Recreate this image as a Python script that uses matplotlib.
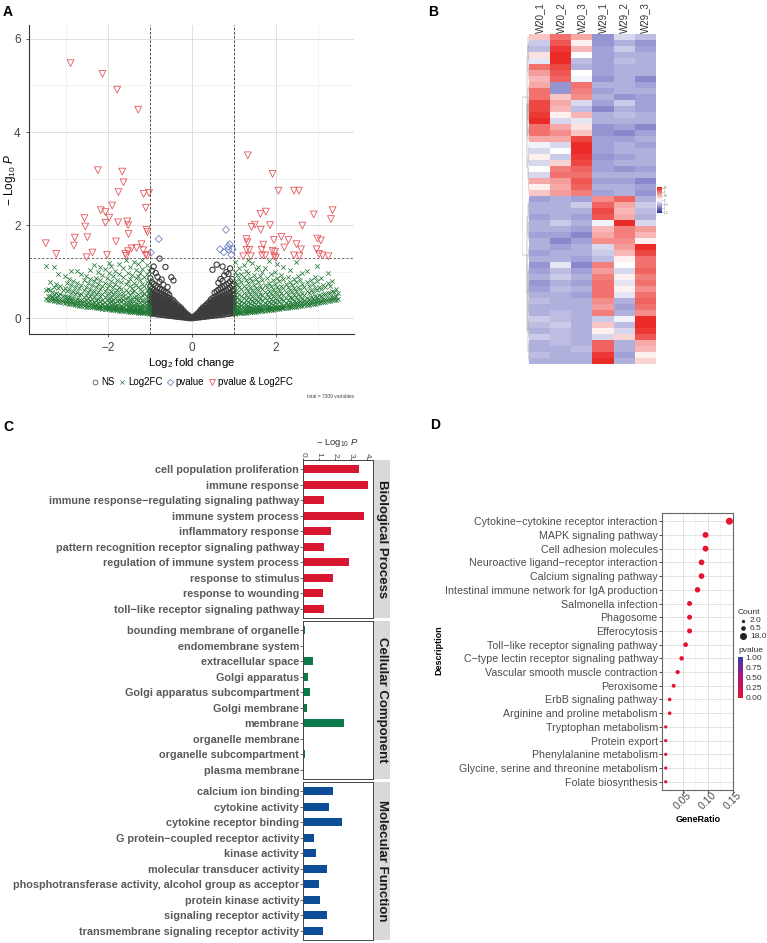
import numpy as np
import matplotlib.pyplot as plt
from matplotlib.colors import LinearSegmentedColormap
from matplotlib.lines import Line2D

plt.rcParams['font.family'] = ['Liberation Sans', 'DejaVu Sans']
plt.rcParams['mathtext.fontset'] = 'custom'
plt.rcParams['mathtext.rm'] = 'Liberation Sans'
plt.rcParams['mathtext.it'] = 'Liberation Sans:italic'

W, H = 767, 943

# ---------------- panel A: volcano ----------------
# NS points, per x bin: (x, [y values])
gray_left = [
    (-0.02, [0.00, 0.01]), (-0.07, [0.00, 0.02, 0.05]), (-0.11, [0.01, 0.03, 0.06, 0.08]),
    (-0.16, [0.01, 0.04, 0.06, 0.09, 0.12]), (-0.21, [0.02, 0.05, 0.07, 0.11, 0.14, 0.17]),
    (-0.26, [0.02, 0.04, 0.08, 0.11, 0.15, 0.18, 0.22]),
    (-0.30, [0.03, 0.06, 0.09, 0.13, 0.16, 0.20, 0.25]),
    (-0.35, [0.03, 0.05, 0.09, 0.12, 0.17, 0.21, 0.24, 0.29]),
    (-0.40, [0.04, 0.07, 0.11, 0.14, 0.18, 0.23, 0.27, 0.33]),
    (-0.44, [0.04, 0.08, 0.10, 0.15, 0.19, 0.22, 0.28, 0.32, 0.38, 0.81]),
    (-0.49, [0.05, 0.08, 0.12, 0.16, 0.21, 0.25, 0.30, 0.35, 0.41, 0.88]),
    (-0.54, [0.05, 0.09, 0.13, 0.17, 0.20, 0.26, 0.31, 0.37, 0.43, 0.50]),
    (-0.58, [0.06, 0.10, 0.13, 0.18, 0.23, 0.27, 0.33, 0.38, 0.45, 0.54, 0.67]),
    (-0.63, [0.06, 0.11, 0.15, 0.19, 0.24, 0.29, 0.34, 0.40, 0.47, 0.56, 1.10]),
    (-0.68, [0.07, 0.10, 0.15, 0.21, 0.25, 0.30, 0.36, 0.43, 0.49, 0.58, 0.72]),
    (-0.72, [0.07, 0.12, 0.16, 0.20, 0.26, 0.32, 0.37, 0.44, 0.52, 0.61, 0.83]),
    (-0.77, [0.08, 0.12, 0.17, 0.22, 0.28, 0.33, 0.39, 0.46, 0.53, 0.63, 0.78, 1.28]),
    (-0.82, [0.08, 0.13, 0.18, 0.23, 0.27, 0.34, 0.41, 0.47, 0.55, 0.66, 0.89]),
    (-0.86, [0.09, 0.13, 0.19, 0.24, 0.30, 0.36, 0.42, 0.50, 0.58, 0.70, 0.97]),
    (-0.91, [0.10, 0.14, 0.19, 0.25, 0.31, 0.37, 0.44, 0.51, 0.60, 0.73, 1.11]),
    (-0.95, [0.10, 0.15, 0.21, 0.26, 0.32, 0.39, 0.46, 0.54, 0.63, 0.77, 1.02]),
    (-0.99, [0.11, 0.16, 0.22, 0.28, 0.34, 0.40, 0.48, 0.57, 0.68, 0.86]),
]
gray_right = [
    (0.03, [0.00, 0.02]), (0.07, [0.01, 0.03, 0.05]), (0.12, [0.01, 0.04, 0.07, 0.09]),
    (0.17, [0.02, 0.04, 0.07, 0.10, 0.13]), (0.21, [0.02, 0.05, 0.08, 0.12, 0.15, 0.18]),
    (0.26, [0.03, 0.06, 0.09, 0.12, 0.16, 0.19, 0.23]),
    (0.31, [0.03, 0.06, 0.10, 0.14, 0.17, 0.21, 0.26]),
    (0.35, [0.04, 0.07, 0.10, 0.14, 0.18, 0.22, 0.26, 0.30]),
    (0.40, [0.04, 0.08, 0.12, 0.15, 0.20, 0.24, 0.29, 0.34]),
    (0.45, [0.05, 0.08, 0.12, 0.16, 0.21, 0.25, 0.30, 0.34, 0.40]),
    (0.49, [0.05, 0.09, 0.13, 0.18, 0.22, 0.27, 0.32, 0.37, 0.43, 1.04]),
    (0.54, [0.06, 0.10, 0.14, 0.18, 0.24, 0.28, 0.34, 0.39, 0.46, 0.55]),
    (0.59, [0.06, 0.11, 0.15, 0.20, 0.25, 0.30, 0.35, 0.41, 0.48, 0.58, 1.15]),
    (0.63, [0.07, 0.11, 0.16, 0.21, 0.26, 0.31, 0.37, 0.43, 0.50, 0.61, 0.76]),
    (0.68, [0.07, 0.12, 0.17, 0.22, 0.27, 0.33, 0.39, 0.45, 0.53, 0.64, 0.84]),
    (0.73, [0.08, 0.13, 0.17, 0.23, 0.29, 0.34, 0.40, 0.47, 0.55, 0.66, 0.80, 1.11]),
    (0.77, [0.08, 0.13, 0.18, 0.24, 0.30, 0.36, 0.42, 0.49, 0.57, 0.69, 0.92]),
    (0.82, [0.09, 0.14, 0.19, 0.25, 0.31, 0.37, 0.44, 0.51, 0.60, 0.72, 0.99]),
    (0.87, [0.09, 0.15, 0.20, 0.26, 0.32, 0.38, 0.45, 0.53, 0.62, 0.75, 0.95]),
    (0.91, [0.10, 0.15, 0.21, 0.27, 0.33, 0.40, 0.47, 0.55, 0.65, 0.79, 1.07]),
    (0.96, [0.11, 0.16, 0.22, 0.28, 0.35, 0.42, 0.49, 0.58, 0.69, 0.84]),
    (0.99, [0.11, 0.17, 0.23, 0.29, 0.36, 0.43, 0.51, 0.61, 0.73]),
]

# Log2FC-only points, per x bin
green_left = [
    (-1.03, [0.10, 0.12, 0.15, 0.19, 0.24, 0.31, 0.42, 0.55, 0.68, 0.83, 1.01]),
    (-1.08, [0.11, 0.13, 0.17, 0.22, 0.28, 0.36, 0.47, 0.61, 0.77, 0.94, 1.14]),
    (-1.13, [0.11, 0.14, 0.16, 0.20, 0.26, 0.33, 0.40, 0.52, 0.70, 0.88]),
    (-1.18, [0.12, 0.13, 0.18, 0.23, 0.29, 0.38, 0.49, 0.58, 0.74, 1.05, 1.25]),
    (-1.23, [0.12, 0.15, 0.19, 0.21, 0.27, 0.35, 0.44, 0.63, 0.81, 0.97]),
    (-1.28, [0.12, 0.14, 0.17, 0.24, 0.31, 0.39, 0.53, 0.66, 0.91, 1.17]),
    (-1.33, [0.13, 0.16, 0.20, 0.25, 0.30, 0.42, 0.48, 0.71, 0.86, 1.03]),
    (-1.38, [0.13, 0.15, 0.18, 0.22, 0.29, 0.37, 0.45, 0.59, 0.76, 1.21]),
    (-1.43, [0.13, 0.17, 0.21, 0.27, 0.33, 0.41, 0.56, 0.64, 0.93]),
    (-1.48, [0.14, 0.16, 0.19, 0.24, 0.32, 0.38, 0.50, 0.69, 0.84, 1.10]),
    (-1.53, [0.14, 0.18, 0.23, 0.26, 0.35, 0.46, 0.57, 0.79, 0.98]),
    (-1.58, [0.15, 0.17, 0.20, 0.28, 0.34, 0.43, 0.61, 0.73, 1.24]),
    (-1.63, [0.15, 0.19, 0.24, 0.30, 0.39, 0.48, 0.55, 0.88, 1.07]),
    (-1.68, [0.16, 0.18, 0.22, 0.27, 0.36, 0.44, 0.63, 0.77]),
    (-1.73, [0.16, 0.20, 0.25, 0.32, 0.40, 0.52, 0.68, 0.95, 1.16]),
    (-1.78, [0.17, 0.19, 0.23, 0.29, 0.37, 0.47, 0.60, 0.82]),
    (-1.83, [0.17, 0.21, 0.27, 0.33, 0.44, 0.56, 0.73, 1.02]),
    (-1.88, [0.18, 0.20, 0.25, 0.31, 0.39, 0.51, 0.66, 0.90]),
    (-1.93, [0.18, 0.22, 0.28, 0.36, 0.46, 0.59, 0.80, 1.13]),
    (-1.98, [0.19, 0.21, 0.26, 0.34, 0.42, 0.55, 0.71, 0.97, 1.19]),
    (-2.03, [0.19, 0.23, 0.29, 0.38, 0.49, 0.64, 0.86]),
    (-2.08, [0.20, 0.22, 0.27, 0.35, 0.45, 0.58, 0.76, 1.05]),
    (-2.13, [0.20, 0.24, 0.31, 0.40, 0.53, 0.69, 0.92]),
    (-2.18, [0.21, 0.23, 0.28, 0.37, 0.48, 0.62, 0.81, 1.09]),
    (-2.23, [0.22, 0.25, 0.32, 0.42, 0.56, 0.74, 0.99]),
    (-2.28, [0.22, 0.26, 0.30, 0.39, 0.51, 0.66, 0.87]),
    (-2.33, [0.23, 0.27, 0.34, 0.45, 0.59, 0.79, 1.15]),
    (-2.38, [0.23, 0.28, 0.32, 0.41, 0.54, 0.71]),
    (-2.43, [0.24, 0.29, 0.36, 0.47, 0.63, 0.84, 1.03]),
    (-2.48, [0.25, 0.28, 0.34, 0.44, 0.57, 0.76]),
    (-2.53, [0.25, 0.30, 0.38, 0.50, 0.67, 0.90]),
    (-2.58, [0.26, 0.31, 0.36, 0.46, 0.60, 0.81]),
    (-2.63, [0.27, 0.32, 0.40, 0.53, 0.71, 0.95]),
    (-2.68, [0.27, 0.33, 0.38, 0.49, 0.64]),
    (-2.73, [0.28, 0.34, 0.42, 0.56, 0.75, 1.01]),
    (-2.78, [0.29, 0.33, 0.40, 0.52, 0.68]),
    (-2.83, [0.30, 0.35, 0.44, 0.59, 0.80]),
    (-2.88, [0.30, 0.36, 0.43, 0.55, 0.72, 1.02]),
    (-2.93, [0.31, 0.37, 0.46, 0.62, 0.85]),
    (-2.98, [0.32, 0.38, 0.45, 0.58, 0.76]),
    (-3.03, [0.33, 0.39, 0.48, 0.65, 0.91]),
    (-3.08, [0.34, 0.40, 0.47, 0.61]),
    (-3.13, [0.35, 0.41, 0.51, 0.69]),
    (-3.18, [0.35, 0.42, 0.50, 0.64, 0.95]),
    (-3.23, [0.36, 0.43, 0.54, 0.73]),
    (-3.28, [0.37, 0.44, 0.53, 0.68, 1.10]),
    (-3.33, [0.38, 0.45, 0.57]),
    (-3.38, [0.39, 0.47, 0.60, 0.78]),
    (-3.43, [0.40, 0.48, 0.62]),
    (-3.48, [0.41, 0.60, 1.12]),
]
green_right = [
    (1.03, [0.10, 0.11, 0.14, 0.18, 0.23, 0.30, 0.38, 0.50, 0.64, 0.80, 0.99, 1.20]),
    (1.08, [0.11, 0.13, 0.16, 0.21, 0.27, 0.34, 0.45, 0.57, 0.73, 0.92]),
    (1.13, [0.11, 0.14, 0.18, 0.24, 0.31, 0.40, 0.51, 0.66, 0.85, 1.08]),
    (1.18, [0.12, 0.13, 0.17, 0.22, 0.29, 0.37, 0.48, 0.62, 0.78, 0.96]),
    (1.23, [0.12, 0.15, 0.19, 0.25, 0.33, 0.43, 0.55, 0.70, 0.89, 1.15]),
    (1.28, [0.12, 0.14, 0.18, 0.23, 0.30, 0.39, 0.50, 0.64, 0.82, 1.02]),
    (1.33, [0.13, 0.16, 0.21, 0.27, 0.35, 0.46, 0.59, 0.75, 0.97, 1.26]),
    (1.38, [0.13, 0.15, 0.19, 0.24, 0.32, 0.41, 0.53, 0.68, 0.87]),
    (1.43, [0.13, 0.17, 0.22, 0.28, 0.37, 0.48, 0.61, 0.79, 1.18]),
    (1.48, [0.14, 0.16, 0.20, 0.26, 0.34, 0.44, 0.56, 0.72, 0.93]),
    (1.53, [0.14, 0.18, 0.23, 0.30, 0.39, 0.51, 0.65, 0.84, 1.06]),
    (1.58, [0.15, 0.17, 0.21, 0.27, 0.36, 0.47, 0.60, 0.77, 1.11]),
    (1.63, [0.15, 0.19, 0.24, 0.31, 0.41, 0.53, 0.69, 0.90]),
    (1.68, [0.16, 0.18, 0.22, 0.29, 0.38, 0.49, 0.63, 0.81, 0.99]),
    (1.73, [0.16, 0.20, 0.26, 0.33, 0.43, 0.56, 0.72, 1.07]),
    (1.78, [0.17, 0.19, 0.24, 0.31, 0.40, 0.52, 0.67, 0.86]),
    (1.83, [0.17, 0.21, 0.27, 0.35, 0.46, 0.59, 0.76, 1.22]),
    (1.88, [0.18, 0.20, 0.25, 0.32, 0.42, 0.54, 0.70, 0.94]),
    (1.93, [0.18, 0.22, 0.28, 0.37, 0.48, 0.62, 0.82]),
    (1.98, [0.19, 0.21, 0.26, 0.34, 0.44, 0.57, 0.74, 1.00]),
    (2.03, [0.19, 0.23, 0.30, 0.39, 0.51, 0.66, 0.87, 1.17]),
    (2.08, [0.20, 0.22, 0.27, 0.36, 0.47, 0.61, 0.79]),
    (2.13, [0.21, 0.24, 0.31, 0.41, 0.54, 0.70, 0.92]),
    (2.18, [0.21, 0.25, 0.29, 0.38, 0.50, 0.65, 0.85, 1.10]),
    (2.23, [0.22, 0.26, 0.33, 0.43, 0.57, 0.74]),
    (2.28, [0.22, 0.27, 0.31, 0.40, 0.53, 0.68, 0.89]),
    (2.33, [0.23, 0.27, 0.35, 0.46, 0.60, 0.78, 1.04]),
    (2.38, [0.24, 0.28, 0.33, 0.43, 0.56, 0.72]),
    (2.43, [0.24, 0.29, 0.37, 0.49, 0.64, 0.84]),
    (2.48, [0.25, 0.30, 0.35, 0.45, 0.59, 0.77, 1.21]),
    (2.53, [0.26, 0.30, 0.39, 0.52, 0.68, 0.90]),
    (2.58, [0.26, 0.31, 0.37, 0.48, 0.62, 0.81]),
    (2.63, [0.27, 0.32, 0.41, 0.55, 0.73, 0.97]),
    (2.68, [0.28, 0.33, 0.39, 0.50, 0.66]),
    (2.73, [0.28, 0.34, 0.43, 0.58, 0.77, 1.01]),
    (2.78, [0.29, 0.35, 0.42, 0.54, 0.70]),
    (2.83, [0.30, 0.35, 0.45, 0.61, 0.83]),
    (2.88, [0.31, 0.36, 0.44, 0.57, 0.74]),
    (2.93, [0.31, 0.37, 0.47, 0.64, 0.88]),
    (2.98, [0.32, 0.38, 0.46, 0.60, 0.79, 1.13]),
    (3.03, [0.33, 0.39, 0.50, 0.67]),
    (3.08, [0.34, 0.40, 0.48, 0.63, 0.86]),
    (3.13, [0.35, 0.41, 0.52, 0.71]),
    (3.18, [0.35, 0.42, 0.51, 0.66]),
    (3.23, [0.36, 0.43, 0.55, 0.75, 0.98]),
    (3.28, [0.37, 0.44, 0.54, 0.70]),
    (3.33, [0.38, 0.45, 0.58, 0.79]),
    (3.38, [0.39, 0.46, 0.57]),
    (3.43, [0.40, 0.47, 0.63]),
    (3.48, [0.41, 0.55]),
]

# p-value only
blue_pts = [(-0.79, 1.70), (-0.98, 1.41), (0.81, 1.90), (0.90, 1.59), (0.67, 1.48),
            (0.76, 1.42), (0.87, 1.48), (0.97, 1.48), (0.94, 1.36), (0.86, 1.54)]

# p-value & Log2FC
red_pts = [
    (-2.89, 5.48), (-2.13, 5.25), (-1.78, 4.91), (-1.28, 4.48), (-2.24, 3.18), (-1.66, 3.15),
    (-1.63, 2.92), (-1.75, 2.71), (-1.15, 2.67), (-1.02, 2.69), (-1.10, 2.37), (-1.90, 2.42),
    (-2.17, 2.32), (-2.06, 2.28), (-1.97, 2.16), (-2.56, 2.15), (-2.54, 1.97), (-2.06, 2.05),
    (-1.76, 2.06), (-1.54, 2.08), (-1.52, 2.00), (-1.51, 1.81), (-1.08, 1.90), (-1.06, 1.85),
    (-2.79, 1.73), (-2.49, 1.74), (-2.81, 1.56), (-3.48, 1.61), (-3.23, 1.38), (-1.81, 1.65),
    (-2.37, 1.41), (-2.51, 1.31), (-2.02, 1.36), (-1.59, 1.38), (-1.52, 1.44), (-1.44, 1.50),
    (-1.32, 1.51), (-1.20, 1.59), (-1.16, 1.46), (-1.10, 1.36), (-1.06, 1.34), (-1.56, 1.34),
    (1.33, 3.50), (1.92, 3.10), (2.06, 2.74), (2.43, 2.74), (2.55, 2.74),
    (2.90, 2.23), (3.35, 2.32), (3.31, 2.13), (1.63, 2.24), (1.76, 2.29), (1.50, 2.01),
    (1.42, 1.96), (1.64, 1.90), (1.86, 2.00), (2.63, 1.99), (2.13, 1.75), (1.95, 1.68),
    (2.30, 1.68), (2.99, 1.71), (3.07, 1.67), (1.30, 1.70), (1.32, 1.63), (1.70, 1.58),
    (2.20, 1.52), (2.49, 1.59), (2.60, 1.48), (2.97, 1.48), (1.30, 1.47), (1.37, 1.47),
    (1.66, 1.47), (1.92, 1.45), (1.98, 1.42), (1.67, 1.35), (1.40, 1.33), (1.22, 1.33),
    (2.43, 1.35), (3.03, 1.38), (3.11, 1.35), (3.25, 1.33), (1.96, 1.33), (2.00, 1.30),
    (2.56, 1.33), (1.75, 1.35),
]
total_variables = 7309

# ---------------- panel B: heatmap (row z-scores) ----------------
samples = ['W20_1', 'W20_2', 'W20_3', 'W29_1', 'W29_2', 'W29_3']
heat_rows = [
    [0.4, 1.0, 0.6, -0.8, -0.3, -0.5], [-0.4, 1.2, 0.1, -0.8, -0.6, -0.8],
    [-0.5, 1.4, 0.5, -0.7, -0.4, -0.7], [0.2, 1.5, 0.0, -0.7, -0.6, -0.6],
    [-0.2, 1.5, -0.5, -0.7, -0.5, -0.6], [1.0, 1.3, -0.6, -0.7, -0.6, -0.6],
    [0.7, 1.2, 0.0, -0.7, -0.6, -0.6], [0.5, 1.1, -0.1, -0.8, -0.6, -0.9],
    [0.6, -0.8, 1.0, -0.6, -0.6, -0.7], [1.0, -0.8, 0.9, -0.7, -0.6, -0.6],
    [1.0, 0.4, 0.8, -0.6, -0.8, -0.7], [1.3, 0.6, -0.3, -0.7, -0.4, -0.7],
    [1.3, 0.5, -0.5, -0.9, -0.6, -0.7], [1.4, 0.1, 0.5, -0.6, -0.5, -0.6],
    [1.5, -0.3, -0.2, -0.6, -0.6, -0.6], [1.0, 0.6, 0.2, -0.8, -0.7, -0.9],
    [1.0, 0.8, 0.4, -0.8, -0.9, -0.7], [0.6, 0.6, 1.3, -0.7, -0.7, -0.6],
    [-0.1, -0.3, 1.5, -0.7, -0.6, -0.7], [-0.3, 0.0, 1.5, -0.7, -0.6, -0.6],
    [0.1, -0.4, 1.4, -0.8, -0.7, -0.6], [-0.3, 0.3, 1.3, -0.7, -0.6, -0.6],
    [0.0, 0.9, 1.1, -0.7, -0.8, -0.7], [-0.3, 1.0, 1.0, -0.6, -0.6, -0.6],
    [0.6, 0.7, 1.2, -0.7, -0.7, -0.9], [0.1, 0.6, 1.1, -0.6, -0.6, -0.7],
    [0.4, 0.7, 0.9, -0.7, -0.6, -0.8],
    [-0.7, -0.6, -0.7, 0.8, 1.1, -0.6], [-0.6, -0.6, -0.4, 1.1, 0.6, -0.4],
    [-0.6, -0.6, -0.6, 1.3, 0.5, -0.5], [-0.7, -0.6, -0.7, 1.2, 0.6, -0.6],
    [-0.6, -0.4, -0.6, -0.1, 1.5, -0.3], [-0.6, -0.6, -0.7, 0.5, 0.9, 0.7],
    [-0.7, -0.7, -0.9, 0.6, 0.9, 0.5], [-0.6, -0.9, -0.7, 0.8, 0.8, 0.1],
    [-0.6, -0.7, -0.6, -0.3, 0.7, 1.5], [-0.7, -0.6, -0.6, -0.4, 0.5, 1.3],
    [-0.6, -0.6, -0.7, -0.5, 0.1, 1.0], [-0.8, -0.2, -0.9, 0.9, 0.0, 1.0],
    [-0.7, -0.5, -0.7, 0.7, -0.3, 1.1], [-0.6, -0.4, -0.6, 0.9, 0.1, 0.9],
    [-0.8, -0.6, -0.7, 1.0, -0.2, 1.0], [-0.7, -0.5, -0.6, 1.0, 0.1, 0.8],
    [-0.6, -0.6, -0.7, 1.0, -0.2, 1.0], [-0.5, -0.6, -0.6, 0.8, -0.6, 1.1],
    [-0.6, -0.6, -0.6, 0.7, -0.7, 1.0], [-0.6, -0.5, -0.6, 0.9, -0.6, 0.8],
    [-0.4, -0.5, -0.6, -0.4, -0.1, 1.5], [-0.5, -0.4, -0.6, 0.4, -0.5, 1.5],
    [-0.6, -0.5, -0.6, 0.1, -0.3, 1.4], [-0.4, -0.5, -0.6, -0.3, 0.3, 1.2],
    [-0.6, -0.5, -0.6, 1.1, -0.6, 0.6], [-0.6, -0.6, -0.5, 1.1, -0.6, 0.5],
    [-0.5, -0.6, -0.6, 1.4, -0.7, 0.1], [-0.6, -0.6, -0.6, 1.5, -0.6, 0.3],
]

# ---------------- panel C: GO enrichment ----------------
bp_terms = ['cell population proliferation', 'immune response',
            'immune response\u2212regulating signaling pathway', 'immune system process',
            'inflammatory response', 'pattern recognition receptor signaling pathway',
            'regulation of immune system process', 'response to stimulus',
            'response to wounding', 'toll\u2212like receptor signaling pathway']
bp_logp = [3.51, 4.06, 1.30, 3.83, 1.72, 1.30, 2.88, 1.89, 1.22, 1.30]
cc_terms = ['bounding membrane of organelle', 'endomembrane system', 'extracellular space',
            'Golgi apparatus', 'Golgi apparatus subcompartment', 'Golgi membrane', 'membrane',
            'organelle membrane', 'organelle subcompartment', 'plasma membrane']
cc_logp = [0.10, 0.07, 0.59, 0.32, 0.42, 0.25, 2.54, 0.06, 0.13, 0.06]
mf_terms = ['calcium ion binding', 'cytokine activity', 'cytokine receptor binding',
            'G protein\u2212coupled receptor activity', 'kinase activity',
            'molecular transducer activity', 'phosphotransferase activity, alcohol group as acceptor',
            'protein kinase activity', 'signaling receptor activity',
            'transmembrane signaling receptor activity']
mf_logp = [1.89, 1.62, 2.42, 0.65, 0.78, 1.49, 0.97, 1.05, 1.49, 1.26]

# ---------------- panel D: KEGG dot plot ----------------
kegg_terms = ['Cytokine\u2212cytokine receptor interaction', 'MAPK signaling pathway',
              'Cell adhesion molecules', 'Neuroactive ligand\u2212receptor interaction',
              'Calcium signaling pathway', 'Intestinal immune network for IgA production',
              'Salmonella infection', 'Phagosome', 'Efferocytosis',
              'Toll\u2212like receptor signaling pathway', 'C\u2212type lectin receptor signaling pathway',
              'Vascular smooth muscle contraction', 'Peroxisome', 'ErbB signaling pathway',
              'Arginine and proline metabolism', 'Tryptophan metabolism', 'Protein export',
              'Phenylalanine metabolism', 'Glycine, serine and threonine metabolism',
              'Folate biosynthesis']
kegg_count = [18, 12, 12, 11, 11, 10, 8, 8, 8, 7, 6, 5, 4, 3, 3, 2, 2, 2, 2, 2]
kegg_total = 126
kegg_pvalue = [0.0001, 0.01, 0.005, 0.04, 0.02, 0.01, 0.03, 0.03, 0.02, 0.03,
               0.02, 0.03, 0.02, 0.03, 0.02, 0.02, 0.02, 0.02, 0.02, 0.02]


def add_ax(fig, l, t, r, b):
    return fig.add_axes([l / W, 1 - b / H, (r - l) / W, (b - t) / H])


def flatten(bins):
    xs, ys = [], []
    for x, yl in bins:
        xs += [x] * len(yl)
        ys += yl
    return xs, ys


def adjacent_dendrogram(ax, rows, color='#9a9a9a'):
    # ward-style merging restricted to neighbouring clusters, so the leaf order is kept
    cl = [(float(i), 0.0, np.asarray(r, float), 1) for i, r in enumerate(rows)]
    while len(cl) > 1:
        d = []
        for k in range(len(cl) - 1):
            a, b = cl[k], cl[k + 1]
            d.append(np.sqrt(2 * a[3] * b[3] / (a[3] + b[3])) * np.linalg.norm(a[2] - b[2]))
        k = int(np.argmin(d))
        a, b = cl[k], cl[k + 1]
        h = max(d[k], a[1], b[1]) + 0.02
        ax.plot([-a[1], -h, -h, -b[1]], [a[0], a[0], b[0], b[0]], color=color, lw=0.35)
        n = a[3] + b[3]
        cl[k:k + 2] = [((a[0] + b[0]) / 2, h, (a[2] * a[3] + b[2] * b[3]) / n, n)]
    ax.set_xlim(-cl[0][1] * 1.02, 0)


fig = plt.figure(figsize=(W / 100, H / 100), dpi=100)
ov = fig.add_axes([0, 0, 1, 1])
ov.set_xlim(0, W)
ov.set_ylim(H, 0)
ov.axis('off')

for lab, (px, py) in zip('ABCD', [(8, 12), (433, 12), (8, 427), (435, 425)]):
    ov.text(px, py, lab, fontsize=10, fontweight='bold', ha='center', va='center')

# ---- A ----
ax = add_ax(fig, 29, 25, 354, 334)
gx, gy = flatten(gray_left + gray_right)
ex, ey = flatten(green_left + green_right)
ax.scatter(gx, gy, s=14, marker='o', facecolors='none', edgecolors='#3c3c3c', linewidths=0.8, zorder=3)
ax.scatter(ex, ey, s=10, marker='x', color='#227a36', linewidths=0.55, zorder=3)
bx, by = zip(*blue_pts)
ax.scatter(bx, by, s=13, marker='D', facecolors='none', edgecolors='#7283c6', linewidths=0.6, zorder=4)
rx, ry = zip(*red_pts)
ax.scatter(rx, ry, s=24, marker='v', facecolors='none', edgecolors='#e5575b', linewidths=0.6, zorder=4)
ax.axvline(-1, color='#333333', ls='--', lw=0.6, dashes=(3, 2), zorder=2)
ax.axvline(1, color='#333333', ls='--', lw=0.6, dashes=(3, 2), zorder=2)
ax.axhline(-np.log10(0.05), color='#555555', ls='--', lw=0.6, dashes=(3, 2), zorder=2)
ax.set_xlim(-3.88, 3.86)
ax.set_ylim(-0.34, 6.3)
ax.set_xticks([-2, 0, 2])
ax.set_yticks([0, 2, 4, 6])
ax.set_xticks([-3, -1, 1, 3], minor=True)
ax.set_yticks([1, 3, 5], minor=True)
ax.grid(True, which='major', color='#dadada', lw=0.6)
ax.grid(True, which='minor', color='#ececec', lw=0.5)
ax.set_axisbelow(True)
for s in ['top', 'right']:
    ax.spines[s].set_visible(False)
for s in ['left', 'bottom']:
    ax.spines[s].set_color('#333333')
    ax.spines[s].set_linewidth(0.8)
ax.tick_params(which='major', labelsize=8.5, colors='#444444', length=2.5, width=0.6)
ax.tick_params(which='minor', length=0)
ax.set_xlabel('Log$_2$ fold change', fontsize=8.2, labelpad=1)
ax.set_ylabel('$-$ Log$_{10}$ $P$', fontsize=8.5)
ax.yaxis.set_label_coords(-0.035, 0.5)
handles = [
    Line2D([], [], ls='', marker='o', mfc='none', mec='#3c3c3c', ms=3.5, mew=0.5),
    Line2D([], [], ls='', marker='x', color='#227a36', ms=3.5, mew=0.5),
    Line2D([], [], ls='', marker='D', mfc='none', mec='#7283c6', ms=3.2, mew=0.6),
    Line2D([], [], ls='', marker='v', mfc='none', mec='#e5575b', ms=4.5, mew=0.6),
]
fig.legend(handles, ['NS', 'Log2FC', 'pvalue', 'pvalue & Log2FC'], loc='center',
           bbox_to_anchor=(192 / W, 1 - 382 / H), ncol=4, frameon=False, fontsize=7,
           handletextpad=0.2, columnspacing=0.4, handlelength=0.8)
ov.text(354, 397, f'total = {total_variables} variables', fontsize=3.5, color='#444444',
        ha='right', va='center')

# ---- B ----
hm = np.array(heat_rows)
cmap_h = LinearSegmentedColormap.from_list('bwr_h', ['#2b2ba6', '#ffffff', '#ea1f1c'])
axh = add_ax(fig, 529, 34, 656, 364)
axh.imshow(hm, aspect='auto', cmap=cmap_h, vmin=-1.6, vmax=1.6, interpolation='nearest')
axh.set_xticks(range(len(samples)))
axh.set_xticklabels(samples, rotation=90, fontsize=7, color='#333333')
axh.xaxis.tick_top()
axh.tick_params(length=0, pad=1)
axh.set_yticks([])
for s in axh.spines.values():
    s.set_visible(False)
axd = add_ax(fig, 522, 34, 529, 364)
adjacent_dendrogram(axd, hm)
axd.set_ylim(len(hm) - 0.5, -0.5)
axd.axis('off')
axc = add_ax(fig, 657, 187, 662, 213)
axc.imshow(np.linspace(1.6, -1.6, 60)[:, None], aspect='auto', cmap=cmap_h, vmin=-1.6, vmax=1.6,
           extent=[0, 1, -1.6, 1.6])
axc.set_xticks([])
axc.yaxis.tick_right()
axc.set_yticks([-1.5, -1, -0.5, 0, 0.5, 1, 1.5])
axc.set_yticklabels(['-1.5', '-1', '-0.5', '0', '0.5', '1', '1.5'], fontsize=1.8, color='#555555')
axc.tick_params(length=0.6, width=0.3, pad=0.5)
for s in axc.spines.values():
    s.set_visible(False)

# ---- C ----
facets = [('Biological Process', bp_terms, bp_logp, '#d6172f', 460, 618),
          ('Cellular Component', cc_terms, cc_logp, '#0b7a48', 621, 779),
          ('Molecular Function', mf_terms, mf_logp, '#0d4c96', 782, 940)]
for i, (name, terms, vals, col, top, bot) in enumerate(facets):
    axf = add_ax(fig, 303.3, top, 373, bot)
    axf.barh(range(len(terms)), vals, height=0.5, color=col)
    axf.set_ylim(len(terms) - 0.4, -0.6)
    axf.set_xlim(0, 4.38)
    axf.set_yticks(range(len(terms)))
    axf.set_yticklabels(terms, fontsize=7.8, fontweight='bold', color='#5a5a5a')
    axf.tick_params(axis='y', length=2, width=0.5, color='#333333', pad=1)
    for s in axf.spines.values():
        s.set_color('#444444')
        s.set_linewidth(0.7)
    if i == 0:
        axf.xaxis.tick_top()
        axf.set_xticks([0, 1, 2, 3, 4])
        axf.set_xticklabels(['0', '1', '2', '3', '4'], rotation=-90, fontsize=6, color='#4d4d4d')
        axf.tick_params(axis='x', length=1.5, width=0.5, pad=0.5)
    else:
        axf.set_xticks([])
    axs = add_ax(fig, 374, top, 390, bot)
    axs.set_facecolor('#d9d9d9')
    axs.set_xticks([])
    axs.set_yticks([])
    for s in axs.spines.values():
        s.set_visible(False)
    axs.text(0.5, 0.5, name, rotation=-90, fontsize=9.5, fontweight='bold', color='#1a1a1a',
             ha='center', va='center', transform=axs.transAxes)
ov.text(337, 443, '$-$ Log$_{10}$ $P$', fontsize=6.8, color='#333333', ha='center', va='center')

# ---- D ----
cmap_p = LinearSegmentedColormap.from_list('pv', ['#e8132e', '#b3127a', '#3a3ca8'])
ratio = np.array(kegg_count) / kegg_total


def dot_size(c):
    return 3 + 1.25 * np.asarray(c, float)


axk = add_ax(fig, 662, 513, 733, 790)
axk.scatter(ratio, range(len(kegg_terms)), s=dot_size(kegg_count), c=kegg_pvalue, cmap=cmap_p,
            vmin=0, vmax=1, zorder=3, linewidths=0)
axk.set_ylim(len(kegg_terms) - 0.4, -0.6)
axk.set_xlim(0.0085, 0.15)
axk.set_yticks(range(len(kegg_terms)))
axk.set_yticklabels(kegg_terms, fontsize=7.7, color='#4d4d4d')
axk.set_xticks([0.05, 0.10, 0.15])
axk.set_xticklabels(['0.05', '0.10', '0.15'], rotation=45, ha='center', va='center',
                    fontsize=7.5, color='#4d4d4d')
axk.set_xticks([0.025, 0.075, 0.125], minor=True)
axk.tick_params(axis='x', which='major', length=2, width=0.5, pad=6)
axk.tick_params(axis='x', which='minor', length=0)
axk.tick_params(axis='y', length=2, width=0.5, pad=1)
axk.grid(True, which='major', color='#dedede', lw=0.6)
axk.grid(True, which='minor', axis='x', color='#efefef', lw=0.4)
axk.set_axisbelow(True)
for s in axk.spines.values():
    s.set_color('#666666')
    s.set_linewidth(0.8)
ov.text(439, 650, 'Description', rotation=90, fontsize=6.5, fontweight='bold', ha='center', va='center')
ov.text(698, 819, 'GeneRatio', fontsize=6.5, fontweight='bold', ha='center', va='center')

# legend: Count and pvalue
ov.text(738, 612, 'Count', fontsize=6, color='#333333', ha='left', va='center')
for c, yy in zip([2, 6.5, 18], [621, 628, 636]):
    ov.scatter([743], [yy], s=dot_size(c), color='#222222', linewidths=0)
    ov.text(750, yy, f'{c:.1f}', fontsize=6, color='#333333', ha='left', va='center')
ov.text(738, 651, 'pvalue', fontsize=6, color='#333333', ha='left', va='center')
axp = add_ax(fig, 738, 657, 743, 698)
axp.imshow(np.linspace(1, 0, 60)[:, None], aspect='auto', cmap=cmap_p, vmin=0, vmax=1,
           extent=[0, 1, 0, 1])
axp.set_xticks([])
axp.yaxis.tick_right()
axp.set_yticks([0, 0.25, 0.5, 0.75, 1.0])
axp.set_yticklabels(['0.00', '0.25', '0.50', '0.75', '1.00'], fontsize=6, color='#333333')
axp.tick_params(length=1.2, width=0.4, pad=0.8, color='white')
for s in axp.spines.values():
    s.set_visible(False)

fig.savefig('out.png', dpi=100)
